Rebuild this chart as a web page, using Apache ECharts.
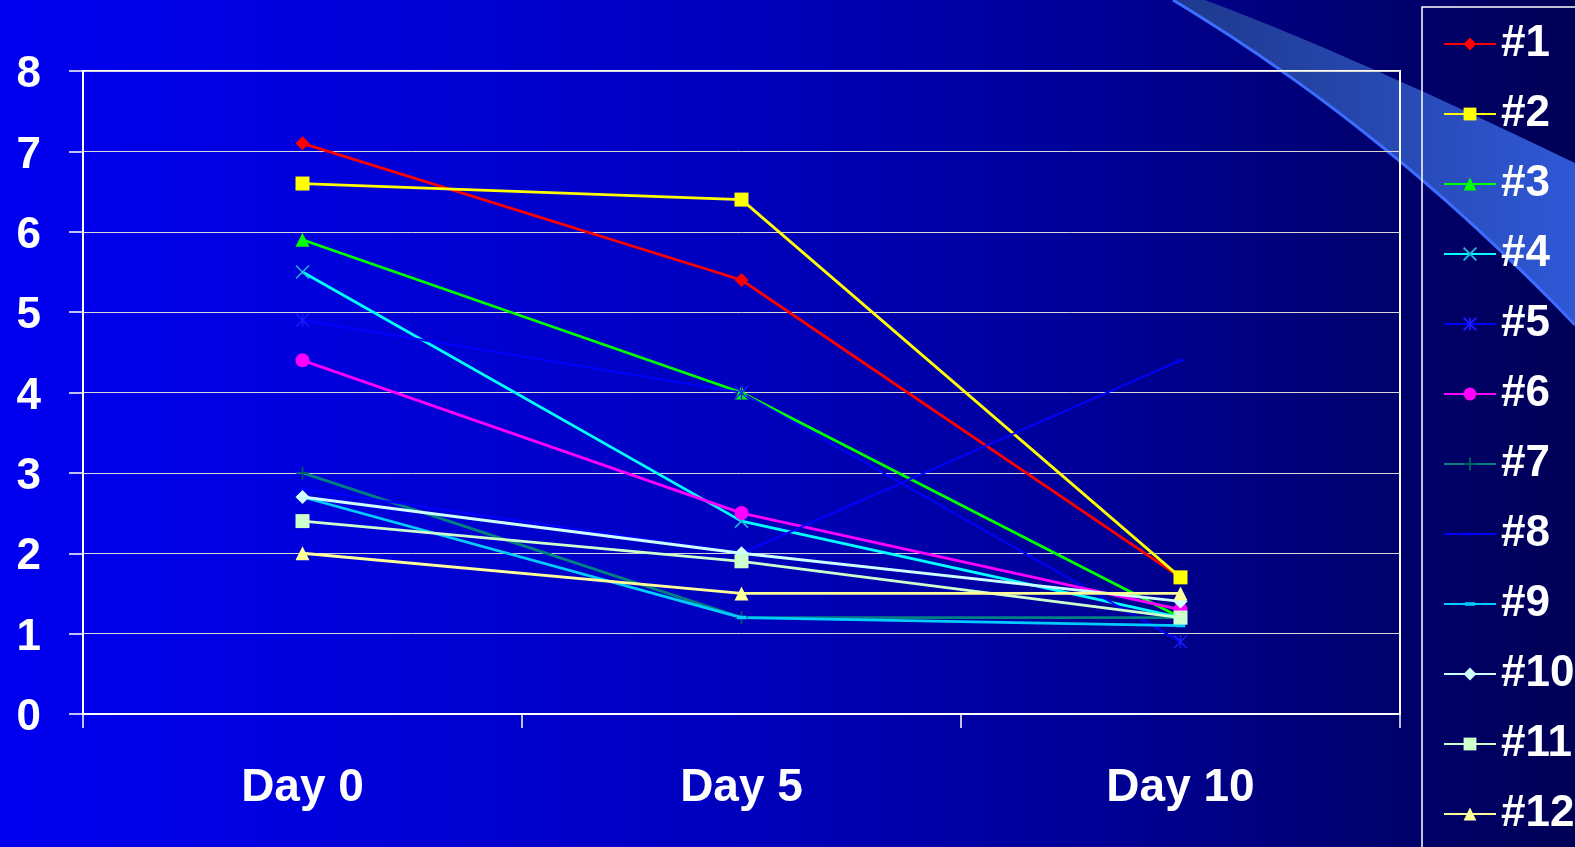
<!DOCTYPE html>
<html>
<head>
<meta charset="utf-8">
<script src="https://cdn.jsdelivr.net/npm/echarts@6/dist/echarts.min.js"></script>
<style>
  html, body { margin: 0; padding: 0; }
  #chart { width: 1575px; height: 847px; }
</style>
</head>
<body>
<div id="chart"></div>
<script>
// Category axis labels
const days = ['Day 0', 'Day 5', 'Day 10'];

// Values per subject at each day
const s1  = [7.1, 5.4, 1.7];
const s2  = [6.6, 6.4, 1.7];
const s3  = [5.9, 4.0, 1.2];
const s4  = [5.5, 2.4, 1.2];
const s5  = [4.9, 4.0, 0.9];
const s6  = [4.4, 2.5, 1.3];
const s7  = [3.0, 1.2, 1.2];
const s8  = [2.8, 2.0, 4.4];
const s9  = [2.7, 1.2, 1.1];
const s10 = [2.7, 2.0, 1.4];
const s11 = [2.4, 1.9, 1.2];
const s12 = [2.0, 1.5, 1.5];

const names = ['#1', '#2', '#3', '#4', '#5', '#6', '#7', '#8', '#9', '#10', '#11', '#12'];
const values = [s1, s2, s3, s4, s5, s6, s7, s8, s9, s10, s11, s12];

// Dash markers keep a square bounding box (tiny corner specks) so they stay flat in the legend too
const DASH_THIN = 'path://M2,4L8,4L8,6L2,6ZM0,0L0.01,0L0,0.01ZM10,10L9.99,10L10,9.99Z';
const DASH_WIDE = 'path://M1,3.6L9,3.6L9,6.4L1,6.4ZM0,0L0.01,0L0,0.01ZM10,10L9.99,10L10,9.99Z';

// Per-series look: line colour, marker shape and size; "stroke" marks outline-only markers
const looks = [
  { c: '#ff0000', sym: 'diamond', size: 14 },
  { c: '#ffff00', sym: 'rect', size: 14 },
  { c: '#00ff00', sym: 'triangle', size: 14 },
  { c: '#00ffff', sym: 'path://M0,0L10,10M10,0L0,10', size: 13, stroke: '#1fb8d8' },
  { c: '#0000ff', sym: 'path://M0,0L10,10M10,0L0,10M5,0L5,10', size: 13, stroke: '#1a1aff', w: 2 },
  { c: '#ff00ff', sym: 'circle', size: 14 },
  { c: '#008080', sym: 'path://M5,0L5,10M0,5L10,5', size: 13, stroke: '#006060' },
  { c: '#0000ff', sym: DASH_THIN, size: 11, w: 2 },
  { c: '#00ccff', sym: DASH_WIDE, size: 12 },
  { c: '#ccffff', sym: 'diamond', size: 14 },
  { c: '#ccffcc', sym: 'rect', size: 14 },
  { c: '#ffff99', sym: 'triangle', size: 14 }
];

const FONT = '"Liberation Sans", Arial, sans-serif';

const series = names.map((n, i) => {
  const lk = looks[i];
  const itemStyle = lk.stroke
    ? { color: 'rgba(0,0,0,0)', borderColor: lk.stroke, borderWidth: 1.5 }
    : { color: lk.c };
  return {
    name: n,
    type: 'line',
    data: values[i],
    symbol: lk.sym,
    symbolSize: lk.size,
    showSymbol: true,
    lineStyle: { color: lk.c, width: lk.w || 2.8 },
    itemStyle: itemStyle,
    emphasis: { disabled: true },
    z: 2
  };
});

// Quadratic curve samples for the decorative band in the top-right corner
function quad(p0, p1, p2, n) {
  const pts = [];
  for (let k = 0; k <= n; k++) {
    const t = k / n, u = 1 - t;
    pts.push([u * u * p0[0] + 2 * u * t * p1[0] + t * t * p2[0],
              u * u * p0[1] + 2 * u * t * p1[1] + t * t * p2[1]]);
  }
  return pts;
}
const upperEdge = quad([1205, 0], [1345, 52], [1575, 163], 30);
const lowerEdge = quad([1173, 0], [1389, 130], [1575, 325], 30);
const bandPts = upperEdge.concat(lowerEdge.slice().reverse());

const chart = echarts.init(document.getElementById('chart'), null, { renderer: 'canvas' });
chart.setOption({
  animation: false,
  backgroundColor: {
    type: 'linear', x: 0, y: 0, x2: 1, y2: 0,
    colorStops: [
      { offset: 0, color: '#0000f0' },
      { offset: 0.2, color: '#0000dc' },
      { offset: 0.45, color: '#0000c0' },
      { offset: 0.7, color: '#000096' },
      { offset: 0.85, color: '#000074' },
      { offset: 1, color: '#000056' }
    ]
  },
  graphic: [
    {
      type: 'polygon',
      z: -1,
      silent: true,
      shape: { points: bandPts },
      style: {
        fill: {
          type: 'linear', x: 0, y: 0, x2: 1, y2: 0,
          colorStops: [
            { offset: 0, color: '#1e388c' },
            { offset: 1, color: '#2f58d6' }
          ]
        }
      }
    },
    {
      type: 'polyline',
      z: -1,
      silent: true,
      shape: { points: lowerEdge },
      style: { stroke: '#3d6dff', lineWidth: 3, fill: null }
    },
    {
      type: 'rect',
      z: 5,
      silent: true,
      shape: { x: 1422, y: 7, width: 200, height: 900 },
      style: { fill: null, stroke: '#ffffff', lineWidth: 1.5 }
    }
  ],
  grid: {
    left: 83, top: 71, width: 1317, height: 643,
    show: true, borderColor: '#ffffff', borderWidth: 2,
    backgroundColor: 'transparent', containLabel: false
  },
  legend: {
    orient: 'vertical',
    left: 1443, top: 22,
    padding: 0,
    itemWidth: 52, itemHeight: 16, itemGap: 26,
    data: names,
    textStyle: {
      color: '#ffffff', fontSize: 44, fontWeight: 'bold', fontFamily: FONT,
      lineHeight: 44
    },
    selectedMode: false
  },
  xAxis: {
    type: 'category',
    data: days,
    boundaryGap: true,
    axisLine: { show: true, lineStyle: { color: '#ffffff', width: 2 } },
    axisTick: { show: true, length: 14, lineStyle: { color: '#ffffff', width: 1.5 } },
    axisLabel: { color: '#ffffff', fontSize: 46, fontWeight: 'bold', fontFamily: FONT, margin: 51 },
    splitLine: { show: false }
  },
  yAxis: {
    type: 'value',
    min: 0, max: 8, interval: 1,
    axisLine: { show: true, lineStyle: { color: '#ffffff', width: 2 } },
    axisTick: { show: true, length: 14, lineStyle: { color: '#ffffff', width: 1.5 } },
    axisLabel: {
      color: '#ffffff', margin: 42,
      formatter: '{v|{value}}',
      rich: {
        v: {
          color: '#ffffff', fontSize: 44, fontWeight: 'bold', fontFamily: FONT,
          padding: [8, 0, 0, 0]
        }
      }
    },
    splitLine: { show: true, lineStyle: { color: '#d8d8d8', width: 1 } }
  },
  series: series
});
</script>
</body>
</html>
